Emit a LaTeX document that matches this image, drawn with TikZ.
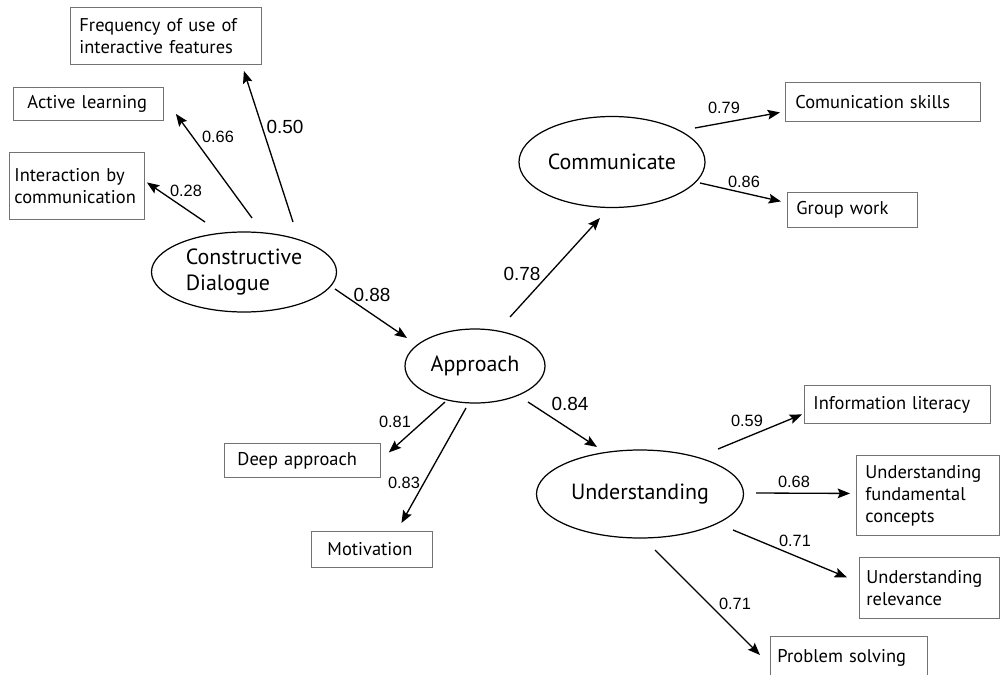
\documentclass[tikz,border=0pt]{standalone}
\usepackage{fontspec}
\setmainfont{PT Sans}
\newfontfamily\numfont{Liberation Sans}
\usetikzlibrary{arrows.meta,shapes.geometric,calc}

\tikzset{
  latent/.style={draw, ellipse, line width=0.7pt, inner sep=0pt, align=left,
                 font=\fontsize{12.5}{15}\selectfont},
  manifest/.style={draw=black!55, line width=0.5pt, rectangle, anchor=north west,
                   align=left, inner ysep=1pt, font=\fontsize{10.5}{12.5}\selectfont},
  loading/.style={-{Stealth[length=7pt,width=5.5pt,inset=1.2pt]}, line width=0.75pt},
  coef/.style={font=\numfont\fontsize{9.3}{11}\selectfont, inner sep=0pt},
  bigcoef/.style={font=\numfont\fontsize{10.8}{13}\selectfont, inner sep=0pt}
}

\begin{document}
\begin{tikzpicture}[x=0.2mm, y=-0.2mm]
  \clip (0,0) rectangle (1000,675);

  \node[latent, minimum width=3.7cm, minimum height=1.6cm] (cd) at (244,272) {Constructive\\Dialogue};
  \node[latent, minimum width=2.8cm, minimum height=1.48cm] (app) at (475,366) {Approach};
  \node[latent, minimum width=3.72cm, minimum height=1.82cm] (com) at (612,162) {Communicate};
  \node[latent, minimum width=4.14cm, minimum height=1.76cm] (und) at (640,494) {Understanding};

  \node[manifest, minimum width=3.82cm, minimum height=1.14cm, inner xsep=.18cm, text width=3.46cm] (freq) at (70,7) {Frequency of use of\\interactive features};
  \node[manifest, minimum width=3cm, minimum height=.66cm, inner xsep=.28cm, text width=2.44cm] (active) at (13,87) {Active learning};
  \node[manifest, minimum width=2.7cm, minimum height=1.34cm, inner xsep=.1cm, text width=2.5cm] (inter) at (9,152) {Interaction by\\communication};
  \node[manifest, minimum width=3.12cm, minimum height=.68cm, inner xsep=.26cm, text width=2.6cm] (deep) at (224,443) {Deep approach};
  \node[manifest, minimum width=2.42cm, minimum height=.72cm, inner xsep=.32cm, text width=1.78cm] (motiv) at (311,531) {Motivation};
  \node[manifest, minimum width=3.9cm, minimum height=.78cm, inner xsep=.2cm, text width=3.5cm] (comsk) at (785,82) {Comunication skills};
  \node[manifest, minimum width=2.6cm, minimum height=.7cm, inner xsep=.18cm, text width=2.24cm] (group) at (787,192) {Group work};
  \node[manifest, minimum width=3.72cm, minimum height=.76cm, inner xsep=.18cm, text width=3.36cm] (info) at (804,385) {Information literacy};
  \node[manifest, minimum width=2.86cm, minimum height=1.6cm, inner xsep=.18cm, text width=2.5cm] (ufc) at (856,455) {Understanding\\fundamental\\concepts};
  \node[manifest, minimum width=2.8cm, minimum height=1.22cm, inner xsep=.14cm, text width=2.52cm] (urel) at (859,557) {Understanding\\relevance};
  \node[manifest, minimum width=3.14cm, minimum height=.84cm, inner xsep=.14cm, text width=2.86cm] (prob) at (770,636) {Problem solving};

  \draw[loading] ($(cd)+(-39,-50)$) -- ($(inter.east)+(2,-3.5)$);
  \draw[loading] ($(cd)+(8,-54)$) -- ($(active.south east)+(12,-7)$);
  \draw[loading] ($(cd)+(49,-50)$) -- ($(freq.south east)+(-18,6)$);
  \draw[loading] ($(cd)+(91,17)$) -- ($(app)+(-68,-28)$);
  \draw[loading] ($(app)+(-30,36)$) -- ($(deep.east)+(8,-8)$);
  \draw[loading] ($(app)+(-9,42)$) -- ($(motiv.north)+(29.5,-8)$);
  \draw[loading] ($(app)+(53,36)$) -- ($(und)+(-43,-47)$);
  \draw[loading] ($(app)+(35,-49)$) -- ($(com)+(-12,56)$);
  \draw[loading] ($(com)+(83,-34)$) -- ($(comsk.west)+(-5,10.5)$);
  \draw[loading] ($(com)+(88,21)$) -- ($(group.west)+(-6,-8.5)$);
  \draw[loading] ($(und)+(78,-45)$) -- ($(info.west)+(-2,10)$);
  \draw[loading] ($(und)+(116,-1)$) -- ($(ufc.west)+(-6,-2)$);
  \draw[loading] ($(und)+(93,36)$) -- ($(urel.west)+(-12,-10.5)$);
  \draw[loading] ($(und)+(15,56)$) -- ($(prob.north west)+(-10,19)$);

  \node[coef] (c28) at (186,191) {0.28};
  \node[coef] (c66) at (218,137) {0.66};
  \node[bigcoef] (c50) at (285,127) {0.50};
  \node[bigcoef] (c88) at (372,295) {0.88};
  \node[bigcoef] (c78) at (522,274) {0.78};
  \node[coef] (c79) at (724,108) {0.79};
  \node[coef] (c86) at (744,182) {0.86};
  \node[coef] (c81) at (395,422) {0.81};
  \node[coef] (c83) at (404,483) {0.83};
  \node[bigcoef] (c84) at (570,404) {0.84};
  \node[coef] (c59) at (747,421) {0.59};
  \node[coef] (c68) at (794,482) {0.68};
  \node[coef] (c71a) at (795,541) {0.71};
  \node[coef] (c71b) at (735,604) {0.71};
\end{tikzpicture}
\end{document}
